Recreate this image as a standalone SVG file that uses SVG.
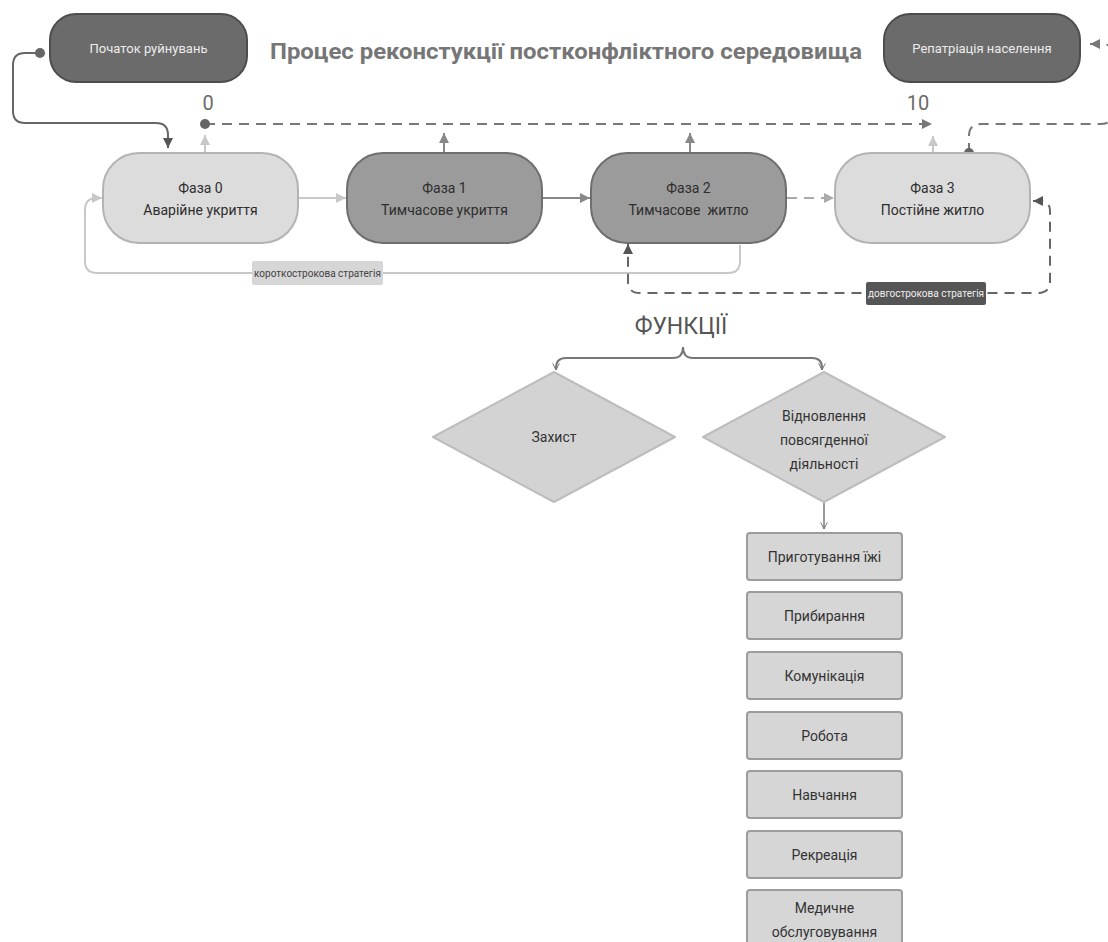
<svg xmlns="http://www.w3.org/2000/svg" width="1108" height="942" viewBox="0 0 1108 942">
<style>
text{font-family:Roboto,"Liberation Sans",sans-serif}
.dark rect{fill:#6b6b6b;stroke:#4d4d4d;stroke-width:2}
.dark text{fill:#ececec;font-size:13px;text-anchor:middle}
.mid rect{fill:#9b9b9b;stroke:#6e6e6e;stroke-width:2}
.light rect{fill:#dcdcdc;stroke:#b3b3b3;stroke-width:2}
.phase text{fill:#2e2e2e;font-size:14px;text-anchor:middle}
.dia polygon{fill:#d3d3d3;stroke:#bdbdbd;stroke-width:2;stroke-linejoin:round}
.dia text{fill:#333;font-size:14px;text-anchor:middle}
.box rect{fill:#d6d6d6;stroke:#9c9c9c;stroke-width:2}
.box text{fill:#333;font-size:14px;text-anchor:middle}
.c{fill:none;stroke-width:2}
.dash{stroke-dasharray:10 7}
.lbl{font-size:10px;text-anchor:middle}
</style>
<defs>
<marker id="aDark" viewBox="0 0 10 10" refX="10" refY="5" markerWidth="5" markerHeight="5" orient="auto-start-reverse" markerUnits="strokeWidth"><path d="M0,0 L10,5 L0,10 z" fill="#555"/></marker>
<marker id="aMid" viewBox="0 0 10 10" refX="10" refY="5" markerWidth="5" markerHeight="5" orient="auto-start-reverse" markerUnits="strokeWidth"><path d="M0,0 L10,5 L0,10 z" fill="#888"/></marker>
<marker id="aGray" viewBox="0 0 10 10" refX="10" refY="5" markerWidth="5" markerHeight="5" orient="auto-start-reverse" markerUnits="strokeWidth"><path d="M0,0 L10,5 L0,10 z" fill="#777"/></marker>
<marker id="aLight" viewBox="0 0 10 10" refX="10" refY="5" markerWidth="5" markerHeight="5" orient="auto-start-reverse" markerUnits="strokeWidth"><path d="M0,0 L10,5 L0,10 z" fill="#c8c8c8"/></marker>
<marker id="aDash" viewBox="0 0 10 10" refX="10" refY="5" markerWidth="5" markerHeight="5" orient="auto-start-reverse" markerUnits="strokeWidth"><path d="M0,0 L10,5 L0,10 z" fill="#aaa"/></marker>
<marker id="chev" viewBox="0 0 12 12" refX="11" refY="6" markerWidth="8" markerHeight="8" orient="auto" markerUnits="userSpaceOnUse"><path d="M1,1 L11,6 L1,11" fill="none" stroke="#777" stroke-width="1.5"/></marker>
<marker id="dot" viewBox="0 0 10 10" refX="5" refY="5" markerWidth="5" markerHeight="5" orient="auto" markerUnits="strokeWidth"><circle cx="5" cy="5" r="5" fill="#666"/></marker>
</defs>
<rect width="1108" height="942" fill="#fff"/>
<text x="566" y="59" font-size="22" font-weight="bold" fill="#767676" text-anchor="middle" textLength="592" lengthAdjust="spacingAndGlyphs">Процес реконстукції постконфліктного середовища</text>
<text x="208" y="110" font-size="20" fill="#6a6a6a" text-anchor="middle">0</text>
<text x="918" y="110" font-size="20" fill="#6a6a6a" text-anchor="middle">10</text>
<text x="681" y="334" font-size="23" fill="#555" text-anchor="middle">ФУНКЦІЇ</text>

<g id="connectors">
<path class="c" stroke="#666" d="M40,53 H25 Q13,53 13,65 V111 Q13,123 25,123 H156 Q168,123 168,135 V148" marker-start="url(#dot)" marker-end="url(#aDark)"/>
<path class="c dash" stroke="#777" stroke-width="2.5" d="M205,124 H932" marker-start="url(#dot)" marker-end="url(#aGray)"/>
<path class="c" stroke="#c8c8c8" d="M205,152 V135" marker-end="url(#aLight)"/>
<path class="c" stroke="#888" d="M444,152 V133" marker-end="url(#aMid)"/>
<path class="c" stroke="#888" d="M690,152 V133" marker-end="url(#aMid)"/>
<path class="c" stroke="#c8c8c8" d="M933,152 V136" marker-end="url(#aLight)"/>
<path class="c" stroke="#c8c8c8" d="M299,198 H346" marker-end="url(#aLight)"/>
<path class="c" stroke="#888" d="M543,198 H590" marker-end="url(#aMid)"/>
<path class="c dash" stroke="#aaa" d="M787,198 H834" marker-end="url(#aDash)"/>
<path class="c" stroke="#c8c8c8" d="M740,245 V261 Q740,273 728,273 H97 Q85,273 85,261 V210 Q85,198 97,198 H102" marker-end="url(#aLight)"/>
<path class="c dash" stroke="#666" d="M1033,201 H1040 Q1050,201 1050,211 V281 Q1050,293 1038,293 H640 Q628,293 628,281 V244" marker-start="url(#aDark)" marker-end="url(#aDark)"/>
<path class="c dash" stroke="#777" stroke-width="2.5" d="M969,153 V136 Q969,124 981,124 H1100 Q1115,124 1115,110 V58 Q1115,44 1101,44 H1090" marker-start="url(#dot)" marker-end="url(#aGray)"/>
<path class="c" stroke="#777" stroke-width="1.5" d="M683,347 Q683,358 673,358 H566 Q556,358 556,368 V370" marker-end="url(#chev)"/>
<path class="c" stroke="#777" stroke-width="1.5" d="M683,347 Q683,358 693,358 H812 Q822,358 822,368 V370" marker-end="url(#chev)"/>
<path class="c" stroke="#999" stroke-width="1.5" d="M824,503 V529" marker-end="url(#chev)"/>
<rect x="252" y="261" width="131" height="24" rx="2" fill="#d6d6d6"/>
<text class="lbl" x="317.5" y="277" fill="#444">короткострокова стратегія</text>
<rect x="866" y="282" width="120" height="23" rx="2" fill="#555"/>
<text class="lbl" x="926" y="297" fill="#eee">довгострокова стратегія</text>
</g>

<g id="start" class="dark"><rect x="50" y="14" width="197" height="68" rx="26"/><text x="148.5" y="53">Початок руйнувань</text></g>
<g id="repatriation" class="dark"><rect x="884" y="14" width="196" height="68" rx="26"/><text x="982" y="53">Репатріація населення</text></g>

<g id="phase0" class="phase light"><rect x="103" y="153" width="195" height="90" rx="36"/><text x="200.5" y="193">Фаза 0</text><text x="200.5" y="215">Аварійне укриття</text></g>
<g id="phase1" class="phase mid"><rect x="347" y="153" width="195" height="90" rx="36"/><text x="444.5" y="193">Фаза 1</text><text x="444.5" y="215">Тимчасове укриття</text></g>
<g id="phase2" class="phase mid"><rect x="591" y="153" width="195" height="90" rx="36"/><text x="688.5" y="193">Фаза 2</text><text x="688.5" y="215" xml:space="preserve">Тимчасове  житло</text></g>
<g id="phase3" class="phase light"><rect x="835" y="153" width="195" height="90" rx="36"/><text x="932.5" y="193">Фаза 3</text><text x="932.5" y="215">Постійне житло</text></g>

<g id="protection" class="dia"><polygon points="554,372 675,437 554,502 433,437"/><text x="554" y="442">Захист</text></g>
<g id="restore" class="dia"><polygon points="824,372 945,437 824,502 703,437"/><text x="824" y="421">Відновлення</text><text x="824" y="445">повсягденної</text><text x="824" y="469">діяльності</text></g>

<g id="cooking" class="box"><rect x="747" y="533" width="155" height="47" rx="3"/><text x="824.5" y="562">Приготування їжі</text></g>
<g id="cleaning" class="box"><rect x="747" y="592" width="155" height="47" rx="3"/><text x="824.5" y="621">Прибирання</text></g>
<g id="communication" class="box"><rect x="747" y="652" width="155" height="47" rx="3"/><text x="824.5" y="681">Комунікація</text></g>
<g id="work" class="box"><rect x="747" y="712" width="155" height="47" rx="3"/><text x="824.5" y="741">Робота</text></g>
<g id="study" class="box"><rect x="747" y="771" width="155" height="47" rx="3"/><text x="824.5" y="800">Навчання</text></g>
<g id="recreation" class="box"><rect x="747" y="831" width="155" height="47" rx="3"/><text x="824.5" y="860">Рекреація</text></g>
<g id="medical" class="box"><rect x="747" y="890" width="155" height="62" rx="3"/><text x="824.5" y="913">Медичне</text><text x="824.5" y="937">обслуговування</text></g>
</svg>
